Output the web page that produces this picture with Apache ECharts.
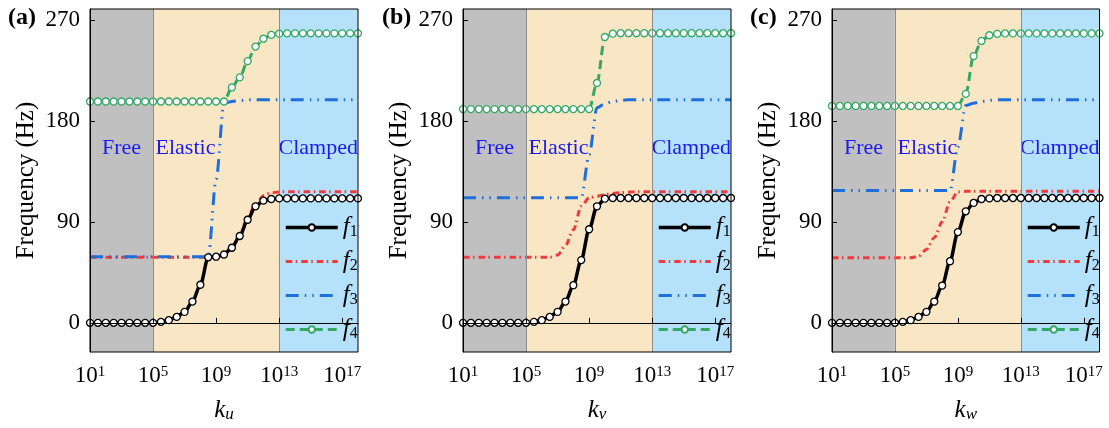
<!DOCTYPE html>
<html>
<head>
<meta charset="utf-8">
<script src="https://cdn.jsdelivr.net/npm/echarts@6/dist/echarts.min.js"></script>
<style>
html, body { margin: 0; padding: 0; background: #fff; }
#main { width: 1109px; height: 428px; }
</style>
</head>
<body>
<div id="main"></div>
<script>
// x values are log10(k)
var kExp = [1, 1.5, 2, 2.5, 3, 3.5, 4, 4.5, 5, 5.5, 6, 6.5, 7, 7.5, 8, 8.5, 9, 9.5,
            10, 10.5, 11, 11.5, 12, 12.5, 13, 13.5, 14, 14.5, 15, 15.5, 16, 16.5, 17, 17.5, 18];
var xTicks = [1, 5, 9, 13, 17];
var yTicks = [0, 90, 180, 270];
var panelNames = ['(a)', '(b)', '(c)'];
var kSubs = ['u', 'v', 'w'];
var regionNames = ['Free', 'Elastic', 'Clamped'];
var regionEdges = [1, 5, 13, 18];
var seriesNames = ['f1', 'f2', 'f3', 'f4'];

// panel (a) k_u
var f1_u = [0, 0, 0, 0, 0, 0, 0, 0, 0, 0.9, 2.4, 5.3, 9.8, 19, 34, 58.5, 59, 61, 67, 77.5, 92, 104, 109, 110.5, 111,
            111, 111, 111, 111, 111, 111, 111, 111, 111, 111];
var f2_u = [58.5, 58.5, 58.5, 58.5, 58.5, 58.5, 58.5, 58.5, 58.5, 58.5, 58.5, 58.5, 58.5, 58.5, 58.5, 58.5, 58.5,
            61, 68, 79, 94, 106, 113.5, 116, 116.8, 117, 117, 117, 117, 117, 117, 117, 117, 117, 117];
var f3_u = [59, 59, 59, 59, 59, 59, 59, 59, 59, 59, 59, 59, 59, 59, 59, 59,
            128, 196, 197.5, 198.3, 199, 199, 199, 199, 199, 199, 199, 199, 199, 199, 199, 199, 199, 199, 199];
var f4_u = [197.5, 197.5, 197.5, 197.5, 197.5, 197.5, 197.5, 197.5, 197.5, 197.5, 197.5, 197.5, 197.5, 197.5, 197.5, 197.5, 197.5, 197.5,
            210, 219, 233.5, 246.5, 253.5, 257, 258, 258.3, 258.3, 258.3, 258.3, 258.3, 258.3, 258.3, 258.3, 258.3, 258.3];

// panel (b) k_v
var f1_v = [0, 0, 0, 0, 0, 0, 0, 0, 0, 0.9, 2.4, 5.3, 9.8, 19, 33.6, 56, 83.5, 104, 110.8,
            111.4, 111.4, 111.4, 111.4, 111.4, 111.4, 111.4, 111.4, 111.4, 111.4, 111.4, 111.4, 111.4, 111.4, 111.4, 111.4];
var f2_v = [58.5, 58.5, 58.5, 58.5, 58.5, 58.5, 58.5, 58.5, 58.5, 58.5, 58.5, 58.5,
            60.5, 69, 83, 104, 111.5, 113, 114.5, 115.5, 116.2, 116.7, 117, 117, 117, 117, 117, 117, 117, 117, 117, 117, 117, 117, 117];
var f3_v = [111.5, 111.5, 111.5, 111.5, 111.5, 111.5, 111.5, 111.5, 111.5, 111.5, 111.5, 111.5, 111.5, 111.5, 111.5, 111.5,
            150, 192, 195.5, 197.5, 198.5, 199, 199, 199, 199, 199, 199, 199, 199, 199, 199, 199, 199, 199, 199];
var f4_v = [190.7, 190.7, 190.7, 190.7, 190.7, 190.7, 190.7, 190.7, 190.7, 190.7, 190.7, 190.7, 190.7, 190.7, 190.7, 190.7, 190.7,
            214, 255, 258, 258.4, 258.4, 258.4, 258.4, 258.4, 258.4, 258.4, 258.4, 258.4, 258.4, 258.4, 258.4, 258.4, 258.4, 258.4];

// panel (c) k_w
var f1_w = [0, 0, 0, 0, 0, 0, 0, 0, 0, 0.9, 2.4, 5.3, 9.8, 19, 33.3, 55, 81, 99.5, 107, 110.5, 111,
            111.4, 111.4, 111.4, 111.4, 111.4, 111.4, 111.4, 111.4, 111.4, 111.4, 111.4, 111.4, 111.4, 111.4];
var f2_w = [58, 58, 58, 58, 58, 58, 58, 58, 58, 58, 58,
            59.5, 65.5, 76, 90, 108, 116.8, 117.3, 117.3, 117.3, 117.3, 117.3, 117.3, 117.3, 117.3, 117.3, 117.3, 117.3,
            117.3, 117.3, 117.3, 117.3, 117.3, 117.3, 117.3];
var f3_w = [118, 118, 118, 118, 118, 118, 118, 118, 118, 118, 118, 118, 118, 118, 118, 118,
            157, 194, 196, 197.5, 198.5, 199, 199, 199, 199, 199, 199, 199, 199, 199, 199, 199, 199, 199, 199];
var f4_w = [193.5, 193.5, 193.5, 193.5, 193.5, 193.5, 193.5, 193.5, 193.5, 193.5, 193.5, 193.5, 193.5, 193.5, 193.5, 193.5, 193.5,
            204.3, 238, 251.5, 256.6, 257.8, 258.2, 258.2, 258.2, 258.2, 258.2, 258.2, 258.2, 258.2, 258.2, 258.2, 258.2, 258.2, 258.2];

var panelData = [
    [f1_u, f2_u, f3_u, f4_u],
    [f1_v, f2_v, f3_v, f4_v],
    [f1_w, f2_w, f3_w, f4_w]
];

var serif = 'Liberation Serif';
var gridLeft = [90, 463, 832];
var gridWidth = [268, 268, 267.5];
var titleLeft = [8, 382, 750];
var legendLeft = [284, 657, 1026];

var lineStyles = [
    {color: '#000000', width: 3.5, type: 'solid', symbol: 'circle', border: '#000000', z: 5},
    {color: '#ef3b3b', width: 3, type: [6.5, 3.5, 1.5, 4], symbol: 'none', z: 3},
    {color: '#1e6fdc', width: 3, type: [13, 6, 1.5, 6, 1.5, 6], symbol: 'none', z: 3},
    {color: '#33a865', width: 3, type: [9, 5], symbol: 'circle', border: '#33a865', z: 4}
];
var bandColors = ['#c0c0c0', '#f9e6c4', '#b5e1fb'];

function pairs(vals) {
    return kExp.map(function (x, i) { return [x, vals[i]]; });
}

// legend entries: thick lines, no marker on f2 / f3
var legendData = seriesNames.map(function (n, i) {
    var st = lineStyles[i];
    var item = {name: n, lineStyle: {width: st.width, type: st.type, color: st.color}};
    if (st.symbol === 'none') item.itemStyle = {opacity: 0};
    return item;
});

var grids = [], xAxes = [], yAxes = [], series = [], titles = [], legends = [];

for (var p = 0; p < 3; p++) {
    grids.push({
        left: gridLeft[p], top: 9, width: gridWidth[p], height: 344,
        show: true, backgroundColor: 'transparent', borderColor: '#000', borderWidth: 1, z: 6
    });
    xAxes.push({
        gridIndex: p, type: 'value', min: 1, max: 18, z: 7,
        axisLine: {lineStyle: {color: '#000', width: 1}},
        axisTick: {inside: true, length: 5, customValues: xTicks, lineStyle: {color: '#000'}},
        splitLine: {show: false},
        axisLabel: {
            customValues: xTicks, margin: 13,
            formatter: function (v) { return '{b|10}{p|' + v + '}'; },
            rich: {
                b: {fontFamily: serif, fontSize: 23, lineHeight: 22, color: '#000'},
                p: {fontFamily: serif, fontSize: 15, lineHeight: 10, verticalAlign: 'top', color: '#000'}
            }
        },
        name: '{i|k}{s|' + kSubs[p] + '}', nameLocation: 'middle', nameGap: 46,
        nameTextStyle: {
            rich: {
                i: {fontFamily: serif, fontStyle: 'italic', fontSize: 25, lineHeight: 25, color: '#000'},
                s: {fontFamily: serif, fontStyle: 'italic', fontSize: 17, lineHeight: 6, verticalAlign: 'bottom', color: '#000'}
            }
        }
    });
    yAxes.push({
        gridIndex: p, type: 'value', min: -26, max: 280, z: 7,
        axisLine: {show: true, lineStyle: {color: '#000', width: 1}},
        axisTick: {show: true, inside: true, length: 5, customValues: yTicks, lineStyle: {color: '#000'}},
        splitLine: {show: false},
        axisLabel: {customValues: yTicks, margin: 10, fontFamily: serif, fontSize: 23, color: '#000'},
        name: 'Frequency (Hz)', nameLocation: 'middle', nameGap: 51,
        nameTextStyle: {fontFamily: serif, fontSize: 25, color: '#000'}
    });
    titles.push({
        text: panelNames[p], left: titleLeft[p], top: 6, padding: 0,
        textStyle: {fontFamily: serif, fontWeight: 'bold', fontSize: 24, color: '#000'}
    });
    legends.push({
        left: legendLeft[p], top: 215, orient: 'vertical', padding: 0,
        itemWidth: 52, itemHeight: 8, itemGap: 9, selectedMode: false,
        data: legendData,
        formatter: function (n) { return '{i|f}{s|' + n.charAt(1) + '}'; },
        textStyle: {
            rich: {
                i: {fontFamily: serif, fontStyle: 'italic', fontSize: 25, lineHeight: 24, color: '#000'},
                s: {fontFamily: serif, fontSize: 16, lineHeight: 8, verticalAlign: 'bottom', color: '#000'}
            }
        }
    });

    // regions: Free / Elastic / Clamped
    var labelPos = [['50%', 139], [2.5, 139], ['100%', 139]];
    var labelAlign = ['center', 'left', 'right'];
    var areas = [];
    for (var r = 0; r < 3; r++) {
        areas.push([
            {
                name: regionNames[r], xAxis: regionEdges[r],
                itemStyle: {color: bandColors[r]},
                label: {
                    show: true, position: labelPos[r], align: labelAlign[r], verticalAlign: 'middle',
                    fontFamily: serif, fontSize: 22, color: '#1a1aee'
                }
            },
            {xAxis: regionEdges[r + 1]}
        ]);
    }
    series.push({
        name: 'bg', type: 'line', xAxisIndex: p, yAxisIndex: p, z: 1, silent: true,
        data: pairs(panelData[p][0]), symbol: 'none', lineStyle: {width: 0, opacity: 0},
        markArea: {silent: true, data: areas},
        markLine: {
            silent: true, symbol: 'none', label: {show: false},
            lineStyle: {color: '#8c8c8c', width: 1, type: 'solid'},
            data: [{xAxis: regionEdges[1]}, {xAxis: regionEdges[2]}]
        }
    });

    // f2, f3, f4 first, f1 on top
    [1, 2, 3, 0].forEach(function (s) {
        var st = lineStyles[s];
        series.push({
            name: seriesNames[s], type: 'line', xAxisIndex: p, yAxisIndex: p, z: st.z,
            data: pairs(panelData[p][s]),
            smooth: 0.3, smoothMonotone: 'x',
            symbol: st.symbol, symbolSize: 7, showSymbol: st.symbol !== 'none',
            lineStyle: {color: st.color, width: st.width, type: st.type, cap: 'butt'},
            itemStyle: {color: '#fff', borderColor: st.border || st.color, borderWidth: 1.3},
            emphasis: {disabled: true}
        });
    });
}

var myChart = echarts.init(document.getElementById('main'));
var option = {
    backgroundColor: '#fff',
    animation: false,
    textStyle: {fontFamily: serif},
    title: titles,
    legend: legends,
    grid: grids,
    xAxis: xAxes,
    yAxis: yAxes,
    series: series
};
myChart.setOption(option);
window.onresize = myChart.resize;
</script>
</body>
</html>
